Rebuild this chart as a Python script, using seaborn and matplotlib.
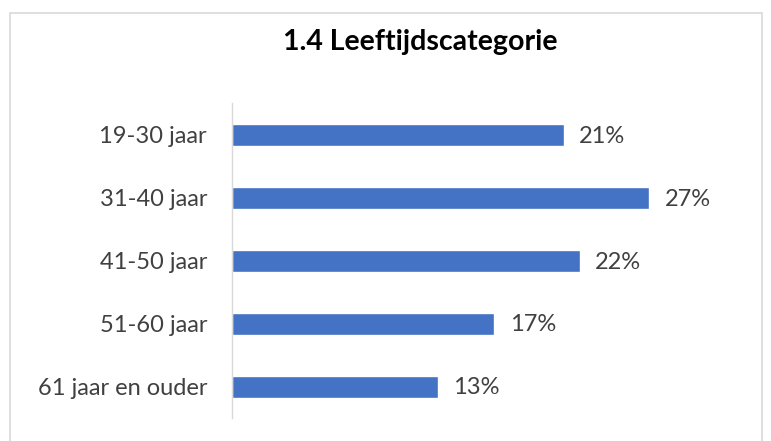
import matplotlib
matplotlib.use("Agg")
import matplotlib.pyplot as plt
import seaborn as sns
import pandas as pd
from matplotlib.patches import Rectangle

# Data
categories = ["19-30 jaar", "31-40 jaar", "41-50 jaar", "51-60 jaar", "61 jaar en ouder"]
values = [21.0, 26.4, 22.0, 16.6, 13.0]
labels = ["21%", "27%", "22%", "17%", "13%"]

df = pd.DataFrame({"categorie": categories, "pct": values})

sns.set_theme(style="white")
plt.rcParams["font.family"] = ["Lato", "DejaVu Sans"]

fig = plt.figure(figsize=(7.71, 4.41), dpi=100)
ax = fig.add_axes([0.301, 0.052, 0.615, 0.714])

sns.barplot(data=df, x="pct", y="categorie", color="#4472C4", width=0.35,
            saturation=1, ax=ax)

for i, (v, lab) in enumerate(zip(values, labels)):
    ax.annotate(lab, (v, i), xytext=(11, -1), textcoords="offset points",
                va="center", ha="left", fontsize=17, color="#404040")

ax.set_xlim(0, 30)
ax.set_ylim(4.5, -0.5)
ax.set_xlabel("")
ax.set_ylabel("")
ax.set_xticks([])
ax.tick_params(axis="y", length=0, pad=18, labelsize=17, labelcolor="#404040")
for s in ["top", "right", "bottom"]:
    ax.spines[s].set_visible(False)
ax.spines["left"].set_color("#D9D9D9")
ax.spines["left"].set_linewidth(1)

fig.text(0.545, 0.905, "1.4 Leeftijdscategorie", ha="center", va="center",
         fontsize=20.5, fontweight="bold", color="#000000")

# chart border
fig.patches.append(Rectangle((0.013, -0.02), 0.975, 0.99, transform=fig.transFigure,
                             fill=False, edgecolor="#D9D9D9", linewidth=1.2))

fig.savefig("out.png", dpi=100)
